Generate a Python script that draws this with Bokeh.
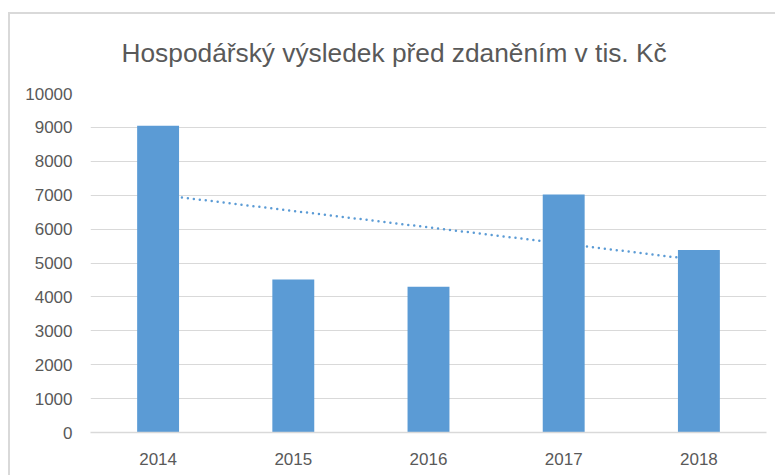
import numpy as np
from bokeh.plotting import figure
from bokeh.models import ColumnDataSource, FixedTicker, Range1d, FactorRange
from bokeh.embed import file_html
from bokeh.resources import INLINE

# ---- data ----
years = ["2014", "2015", "2016", "2017", "2018"]
values = [9050, 4510, 4300, 7020, 5380]
y_ticks = list(range(0, 10001, 1000))
title_text = "Hospodářský výsledek před zdaněním v tis. Kč"

# linear trendline computed from the data (like Excel's linear trendline)
idx = np.arange(len(values))
slope, intercept = np.polyfit(idx, values, 1)
trend_x = [years[0], years[-1]]
trend_y = [intercept, intercept + slope * (len(values) - 1)]

TEXT = "#595959"
GRID = "#d9d9d9"
BAR = "#5b9bd5"
FONT = "Liberation Sans"

p = figure(
    x_range=FactorRange(*years),
    y_range=Range1d(0, 10000),
    width=767, height=463,
    min_border_left=80, min_border_right=11,
    min_border_top=79, min_border_bottom=45,
    output_backend="svg", toolbar_location=None,
    styles={"border-top": "2px solid #d9d9d9",
            "border-left": "2px solid #d9d9d9",
            "margin-left": "8px", "margin-top": "12px"},
)
p.outline_line_color = None
p.background_fill_color = "white"
p.border_fill_color = "white"

p.title.text = title_text
p.title.align = "left"
p.title.vertical_align = "top"
p.title.offset = 31
p.title.text_font = FONT
p.title.text_font_size = "26.3px"
p.title.text_font_style = "normal"
p.title.text_color = TEXT
p.title.standoff = 47

p.xgrid.visible = False
p.ygrid.grid_line_color = GRID
p.ygrid.grid_line_width = 1
p.yaxis.ticker = FixedTicker(ticks=y_ticks)

p.yaxis.axis_line_color = None
p.yaxis.major_tick_line_color = None
p.yaxis.minor_tick_line_color = None
p.yaxis.major_tick_out = 0
p.yaxis.major_label_standoff = 18
p.yaxis.major_label_text_font = FONT
p.yaxis.major_label_text_font_size = "17px"
p.yaxis.major_label_text_color = TEXT

p.xaxis.axis_line_color = GRID
p.xaxis.axis_line_width = 1.5
p.xaxis.major_tick_line_color = None
p.xaxis.minor_tick_line_color = None
p.xaxis.major_label_standoff = 14
p.xaxis.major_label_text_font = FONT
p.xaxis.major_label_text_font_size = "17px"
p.xaxis.major_label_text_color = TEXT

p.line(trend_x, trend_y, line_color=BAR, line_width=2.5,
       line_dash="0 6", line_cap="round")

src = ColumnDataSource(dict(year=years, value=values))
p.vbar(x="year", top="value", width=0.31, source=src,
       fill_color=BAR, line_color=None)

open("out.html", "w").write(file_html(p, INLINE))
